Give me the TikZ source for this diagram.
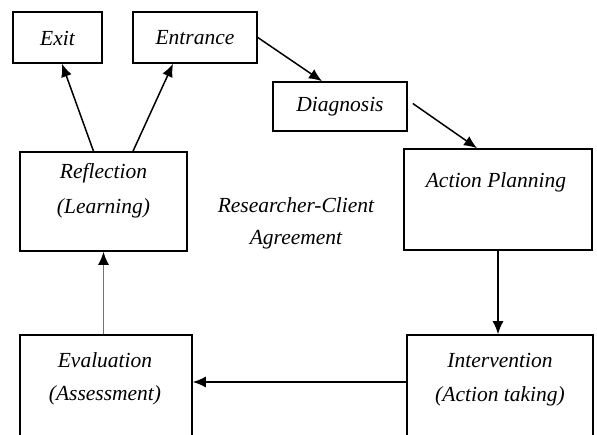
\documentclass[tikz,border=0pt]{standalone}
\usepackage{fontspec}
\setmainfont{Liberation Serif}
\usetikzlibrary{arrows.meta,positioning}

\begin{document}
\begin{tikzpicture}[x=1pt,y=-1pt,>={Latex[length=13pt,width=11pt]}]

\tikzstyle{stage}=[rectangle,draw=black,line width=1.6pt,inner sep=0pt]
\tikzstyle{stageText}=[inner sep=0pt,font=\fontsize{21.5}{35}\selectfont\itshape]
\tikzstyle{flow}=[line width=1.5pt]

\useasboundingbox (0,0) rectangle (597,435);
\clip (0,0) rectangle (597,435);

%top row
\node[stage,minimum width=89pt,minimum height=51pt] (exit) at (57.5,37.5) {};
\node[stage,minimum width=124pt,minimum height=51pt] (entrance) at (195,37.5) {};
\node[stage,minimum width=134pt,minimum height=49pt] (diagnosis) at (340,106.5) {};
\node[stage,minimum width=188pt,minimum height=101pt] (planning) at (498,199.5) {};
\node[stage,minimum width=167pt,minimum height=99pt] (reflection) at (103.5,201.5) {};

%bottom row, cut by the page edge
\node[stage,minimum width=172pt,minimum height=110pt] (evaluation) at (106,390) {};
\node[stage,minimum width=186pt,minimum height=110pt] (intervention) at (500,390) {};

%texts
\node[stageText] (exitTxt) at (57.5,38) {Exit};
\node[stageText] (entranceTxt) at (195,38) {Entrance};
\node[stageText] (diagnosisTxt) at (340,107) {Diagnosis};
\node[stageText] (planningTxt) at (496,182) {Action Planning};
\node[stageText] (reflectionTxt) at (103.5,173) {Reflection};
\node[stageText] (learningTxt) at (103.5,208) {(Learning)};
\node[stageText] (agreementTxt) at (296,205) {Researcher-Client};
\node[stageText] (agreementTxt2) at (296,240) {Agreement};
\node[stageText] (evaluationTxt) at (105,360) {Evaluation};
\node[stageText] (assessmentTxt) at (105,395) {(Assessment)};
\node[stageText] (interventionTxt) at (500,360) {Intervention};
\node[stageText] (actionTxt) at (500,396) {(Action taking)};

%cycle
\draw[flow,->] (entrance.east) -- ([xshift=-18pt]diagnosis.north);
\draw[flow,->] ([xshift=5pt,yshift=3pt]diagnosis.east) -- ([xshift=-21pt]planning.north);
\draw[flow,->] (planning.south) -- (planning.south |- intervention.north);
\draw[flow,->] ([yshift=8pt]intervention.west) -- ([yshift=8pt]evaluation.east);
\draw[flow,draw=black!55,-{Latex[length=13pt,width=11pt,black]}] (reflection.south |- evaluation.north) -- (reflection.south);
\draw[flow,->] ([xshift=-10pt]reflection.north) -- ([xshift=4.5pt]exit.south);
\draw[flow,->] ([xshift=29.5pt]reflection.north) -- ([xshift=-22pt]entrance.south);

\end{tikzpicture}
\end{document}
